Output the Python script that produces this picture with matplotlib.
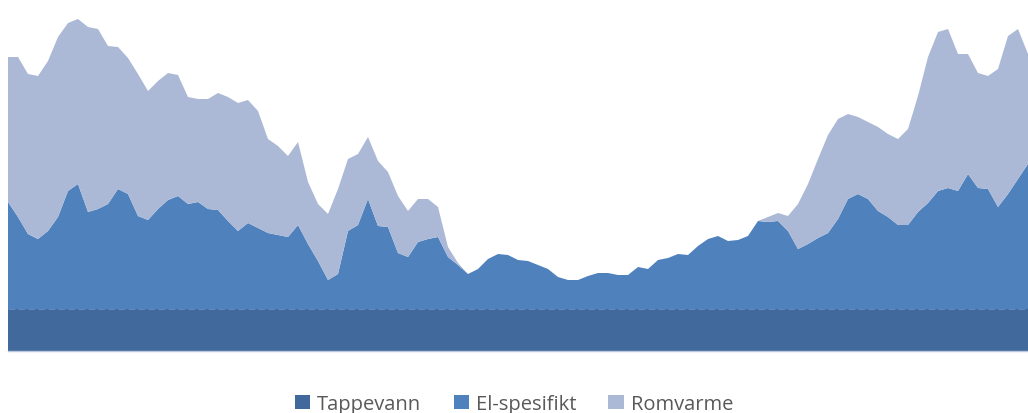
import matplotlib

matplotlib.use("Agg")
import matplotlib.pyplot as plt
import numpy as np
from matplotlib.patches import Patch

# Sample index along the year (roughly every 3.6 days)
day = np.arange(103)

# Constant hot-water load
tappevann = [42] * 103

# Electric-specific load (read as band thickness)
el_spesifikt = [
    107, 92, 75, 70, 78, 92, 118, 125, 97, 100,
    105, 120, 115, 93, 89, 100, 109, 113, 105, 107,
    100, 99, 88, 78, 86, 81, 76, 74, 72, 84,
    65, 48, 29, 35, 78, 84, 110, 83, 82, 56,
    52, 67, 70, 72, 52, 44, 35, 40, 50, 55,
    54, 49, 48, 44, 40, 32, 29, 29, 33, 36,
    36, 34, 34, 42, 40, 49, 51, 55, 54, 63,
    70, 73, 68, 69, 73, 88, 87, 88, 78, 60,
    65, 71, 76, 90, 110, 115, 110, 98, 92, 84,
    84, 97, 106, 118, 121, 118, 135, 121, 120, 102,
    115, 130, 145,
]

# Space heating on top (read as band thickness)
romvarme = [
    145, 160, 160, 163, 170, 180, 168, 165, 185, 180,
    158, 142, 136, 142, 129, 128, 127, 121, 107, 103,
    110, 117, 124, 128, 123, 117, 94, 89, 81, 83,
    62, 57, 66, 85, 72, 71, 62, 65, 55, 57,
    46, 43, 40, 30, 10, 2, 0, 0, 0, 0,
    0, 0, 0, 0, 0, 0, 0, 0, 0, 0,
    0, 0, 0, 0, 0, 0, 0, 0, 0, 0,
    0, 0, 0, 0, 0, 0, 5, 8, 15, 45,
    60, 79, 98, 100, 85, 77, 77, 84, 83, 86,
    96, 116, 146, 159, 159, 137, 120, 115, 113, 138,
    158, 150, 110,
]

labels = ["Tappevann", "El-spesifikt", "Romvarme"]
colors = ["#41699b", "#4f81bd", "#abb9d6"]

fig = plt.figure(figsize=(10.28, 4.14), dpi=100)
fig.patch.set_facecolor("white")
ax = fig.add_axes([8 / 1028, 62 / 414, 1020 / 1028, 352 / 414])

ax.stackplot(day, tappevann, el_spesifikt, romvarme, colors=colors,
             linewidth=0)
# faint seam on top of the hot-water band, like the original
ax.plot(day, tappevann, color="#6a8fc0", lw=0.6, ls=(0, (8, 4)))

ax.set_xlim(day[0], day[-1])
ax.set_ylim(0, 352)
for s in ["top", "right", "left"]:
    ax.spines[s].set_visible(False)
ax.spines["bottom"].set_color("#b9c6dc")
ax.spines["bottom"].set_linewidth(1.0)
ax.set_xticks([])
ax.set_yticks([])
ax.set_facecolor("white")

handles = [Patch(facecolor=c, edgecolor="none") for c in colors]
leg = fig.legend(handles, labels, loc="center", bbox_to_anchor=(0.5, 9 / 414),
                 ncol=3, frameon=False, handlelength=0.75,
                 handleheight=0.75, handletextpad=0.35, columnspacing=1.6,
                 prop={"family": "Open Sans", "size": 14.5})
for t in leg.get_texts():
    t.set_color("#595959")

fig.savefig("out.png", dpi=100, facecolor="white")
